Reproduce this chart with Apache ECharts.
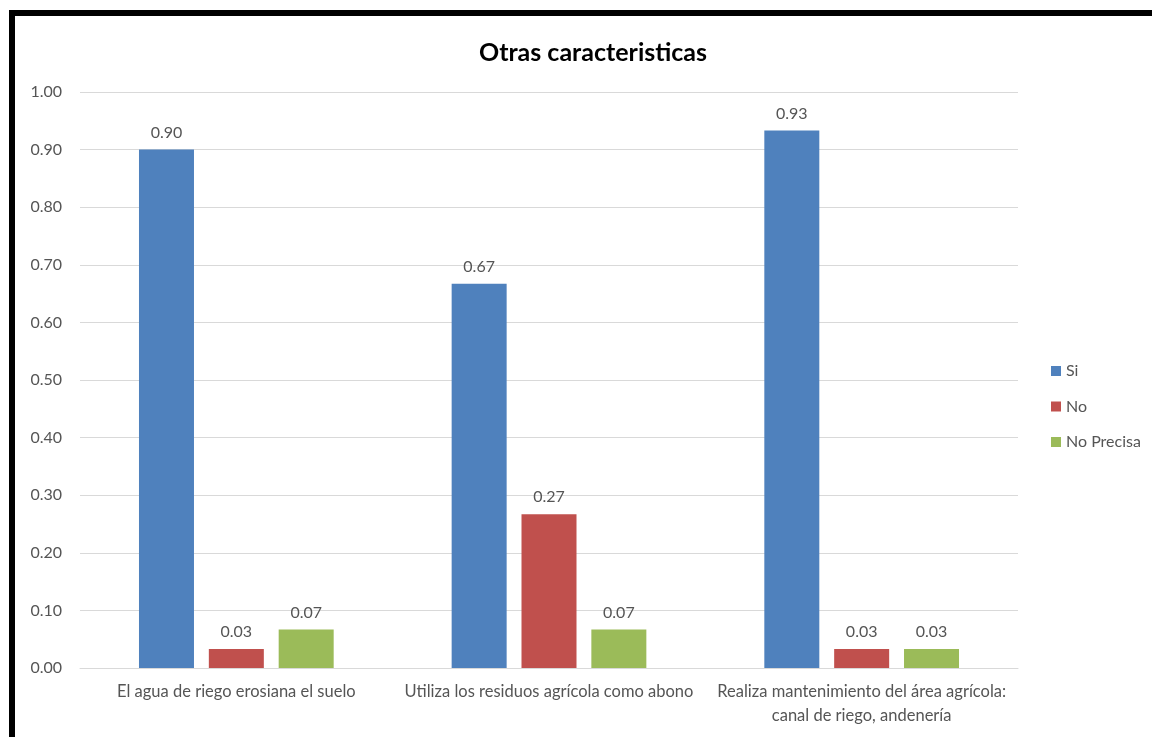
<!DOCTYPE html>
<html><head><meta charset="utf-8">
<script src="https://cdn.jsdelivr.net/npm/echarts@6/dist/echarts.min.js"></script>
<style>html,body{margin:0;padding:0;background:#fff}#c{width:1152px;height:737px}</style>
</head><body><div id="c"></div>
<script>
const categories = ["El agua de riego erosiana el suelo", "Utiliza los residuos agrícola como abono", "Realiza mantenimiento del área agrícola:\ncanal de riego, andenería"];
const si = [0.90, 0.667, 0.933];
const no = [0.033, 0.267, 0.033];
const noPrecisa = [0.067, 0.067, 0.033];
const yTicks = [0, 0.1, 0.2, 0.3, 0.4, 0.5, 0.6, 0.7, 0.8, 0.9, 1.0];

const font = 'Lato, "Open Sans", sans-serif';
const txt = '#555555';
const chart = echarts.init(document.getElementById('c'));
const lbl = {show: true, position: 'top', distance: 9, color: txt, fontSize: 16, fontFamily: font,
  formatter: p => p.value.toFixed(2)};
function ser(name, data, color) {
  return {name, type: 'bar', data, barWidth: 55, barGap: '27%', itemStyle: {color}, label: lbl};
}
chart.setOption({
  animation: false,
  title: {text: 'Otras caracteristicas', left: 588, top: 35, textAlign: 'center',
    textStyle: {fontSize: 25, fontWeight: 'bold', color: '#000', fontFamily: font}},
  graphic: [{type: 'rect', shape: {x: 12, y: 13, width: 1200, height: 800},
    style: {fill: 'none', stroke: '#000', lineWidth: 6}}],
  legend: {orient: 'vertical', left: 1046, top: 358, itemGap: 19.5, itemWidth: 10, itemHeight: 10,
    icon: 'rect', textStyle: {fontSize: 16, color: txt, fontFamily: font}},
  grid: {left: 80, right: 134, top: 92, bottom: 69},
  xAxis: {type: 'category', data: categories,
    axisLine: {lineStyle: {color: '#d9d9d9'}}, axisTick: {show: false},
    axisLabel: {color: txt, fontSize: 16.5, fontFamily: font, margin: 12, interval: 0, lineHeight: 24}},
  yAxis: {type: 'value', min: yTicks[0], max: yTicks[yTicks.length - 1], interval: 0.1,
    axisLine: {show: false}, axisTick: {show: false},
    splitLine: {lineStyle: {color: '#d9d9d9', width: 1}},
    axisLabel: {color: txt, fontSize: 16, fontFamily: font, margin: 18, formatter: v => v.toFixed(2)}},
  series: [ser('Si', si, '#4f81bd'), ser('No', no, '#c0504d'), ser('No Precisa', noPrecisa, '#9bbb59')]
});
</script></body></html>
